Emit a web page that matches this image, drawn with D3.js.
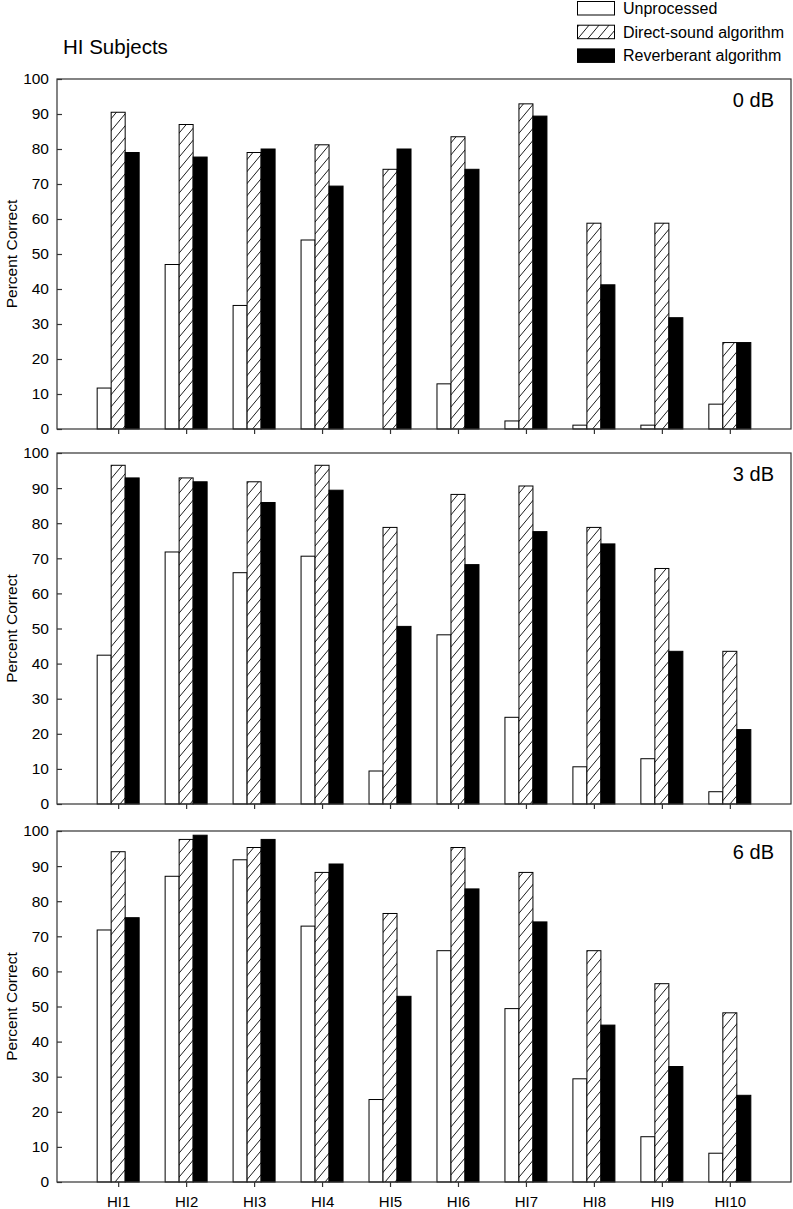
<!DOCTYPE html>
<html>
<head>
<meta charset="utf-8">
<script src="https://cdn.jsdelivr.net/npm/d3@7"></script>
<style>
  body { margin: 0; background: #fff; }
  svg { display: block; font-family: "Liberation Sans", Arial, sans-serif; }
</style>
</head>
<body>
<svg id="chart" width="793" height="1209"></svg>
<script>
const subjects = ["HI1","HI2","HI3","HI4","HI5","HI6","HI7","HI8","HI9","HI10"];
const seriesNames = ["Unprocessed", "Direct-sound algorithm", "Reverberant algorithm"];
const panelLabels = ["0 dB", "3 dB", "6 dB"];
const yTicks = [0,10,20,30,40,50,60,70,80,90,100];

// 0 dB
const unproc0 = [11.7, 47.0, 35.3, 54.0, 0.0, 12.9, 2.3, 1.1, 1.1, 7.1];
const direct0 = [90.5, 87.0, 79.0, 81.2, 74.2, 83.5, 92.9, 58.8, 58.8, 24.7];
const reverb0 = [79.0, 77.7, 80.0, 69.4, 80.0, 74.2, 89.4, 41.2, 31.8, 24.7];
// 3 dB
const unproc3 = [42.4, 71.8, 65.9, 70.6, 9.4, 48.2, 24.7, 10.6, 12.9, 3.5];
const direct3 = [96.5, 92.9, 91.8, 96.5, 78.8, 88.2, 90.6, 78.8, 67.1, 43.5];
const reverb3 = [92.9, 91.8, 85.9, 89.4, 50.6, 68.2, 77.6, 74.1, 43.5, 21.2];
// 6 dB
const unproc6 = [71.8, 87.1, 91.8, 72.9, 23.5, 65.9, 49.4, 29.4, 12.9, 8.2];
const direct6 = [94.1, 97.6, 95.3, 88.2, 76.5, 95.3, 88.2, 65.9, 56.5, 48.2];
const reverb6 = [75.3, 98.8, 97.6, 90.6, 52.9, 83.5, 74.1, 44.7, 32.9, 24.7];

const panelsData = [
  [unproc0, direct0, reverb0],
  [unproc3, direct3, reverb3],
  [unproc6, direct6, reverb6]
];

const svg = d3.select("#chart");
const frameColor = "#333";
const fontFam = '"Liberation Sans", Arial, sans-serif';

// hatch pattern
const defs = svg.append("defs");
const pw = 10, ph = 12;
const pat = defs.append("pattern")
  .attr("id", "hatch")
  .attr("patternUnits", "userSpaceOnUse")
  .attr("width", pw).attr("height", ph);
pat.append("rect").attr("width", pw).attr("height", ph).attr("fill", "#fff");
pat.append("path")
  .attr("d", `M-1,1.2 L1,-1.2 M0,${ph} L${pw},0 M${pw-1},${ph+1.2} L${pw+1},${ph-1.2}`)
  .attr("stroke", "#000").attr("stroke-width", 0.9);

const fills = ["#fff", "url(#hatch)", "#000"];

const left = 57, right = 791;
const x = d3.scaleLinear().domain([0.1, 10.9]).range([left, right]);
const step = x(2) - x(1);
const bw = step * 0.206;

const panelBox = [
  {top: 79, bottom: 429},
  {top: 453, bottom: 804},
  {top: 831, bottom: 1182}
];

panelsData.forEach((series, p) => {
  const box = panelBox[p];
  const y = d3.scaleLinear().domain([0, 100]).range([box.bottom, box.top]);
  const g = svg.append("g");

  // bars
  series.forEach((vals, s) => {
    g.selectAll(null).data(vals).enter().append("rect")
      .attr("x", (d, i) => x(i + 1) + (s - 1.5) * bw)
      .attr("y", d => y(d))
      .attr("width", bw)
      .attr("height", d => y(0) - y(d))
      .attr("fill", fills[s])
      .attr("stroke", d => d > 0 ? "#000" : "none")
      .attr("stroke-width", 1);
  });

  // frame
  g.append("rect")
    .attr("x", left).attr("y", box.top)
    .attr("width", right - left).attr("height", box.bottom - box.top)
    .attr("fill", "none").attr("stroke", frameColor).attr("stroke-width", 1.2);

  // y axis (inward ticks)
  const yAxis = d3.axisLeft(y).tickValues(yTicks).tickSizeInner(-5).tickSizeOuter(0).tickPadding(8);
  const ya = g.append("g").attr("transform", `translate(${left},0)`).call(yAxis);
  ya.select(".domain").remove();
  ya.selectAll("line").attr("stroke", frameColor).attr("stroke-width", 1.2);
  ya.selectAll("text").attr("font-size", 15.5).attr("fill", "#000").attr("font-family", fontFam);

  // x axis (outward ticks)
  const xAxis = d3.axisBottom(x).tickValues(d3.range(1, 11)).tickSizeInner(5).tickSizeOuter(0)
    .tickFormat(p === 2 ? (d => subjects[d - 1]) : () => "").tickPadding(9);
  const xa = g.append("g").attr("transform", `translate(0,${box.bottom})`).call(xAxis);
  xa.select(".domain").remove();
  xa.selectAll("line").attr("stroke", frameColor).attr("stroke-width", 1.2);
  xa.selectAll("text").attr("font-size", 15).attr("fill", "#000").attr("font-family", fontFam);

  // panel label
  g.append("text")
    .attr("x", 774).attr("y", box.top + 28)
    .attr("text-anchor", "end")
    .attr("font-size", 20)
    .text(panelLabels[p]);

  // y title
  g.append("text")
    .attr("transform", `translate(17,${(box.top + box.bottom) / 2}) rotate(-90)`)
    .attr("text-anchor", "middle")
    .attr("font-size", 15.5)
    .text("Percent Correct");
});

// title
svg.append("text").attr("x", 63).attr("y", 54).attr("font-size", 20.5).text("HI Subjects");

// legend
const legend = svg.append("g");
seriesNames.forEach((name, s) => {
  const base = 14 + s * 23.7;
  legend.append("rect")
    .attr("x", 577.5).attr("y", base - 12.5).attr("width", 37).attr("height", 13.5)
    .attr("fill", fills[s]).attr("stroke", "#000").attr("stroke-width", 1);
  legend.append("text")
    .attr("x", 623).attr("y", base)
    .attr("font-size", 16)
    .text(name);
});
</script>
</body>
</html>
